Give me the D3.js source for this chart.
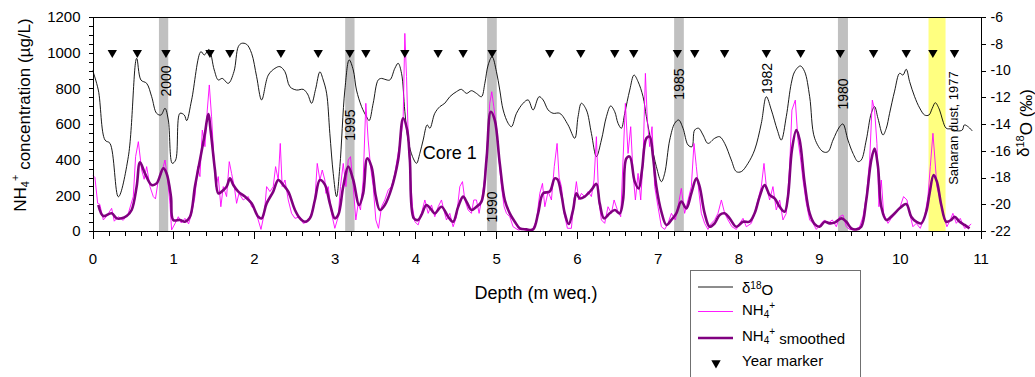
<!DOCTYPE html>
<html><head><meta charset="utf-8">
<script src="https://cdn.jsdelivr.net/npm/d3@7"></script>
<style>
body{margin:0;background:#fff}
svg{display:block}
text{font-family:"Liberation Sans",Arial,sans-serif;fill:#000}
</style>
</head><body>
<svg id="chart" width="1035" height="377"></svg>
<script>
// ---------------- DATA ----------------
const d18oDepth = [0,0.072,0.155,0.217,0.32,0.444,0.547,0.6,0.671,0.733,0.794,0.848,0.898,0.939,0.988,1.03,1.083,1.137,1.166,1.228,1.343,1.385,1.442,1.508,1.558,1.607,1.682,1.752,1.806,1.847,1.909,1.971,2.033,2.095,2.178,2.26,2.321,2.384,2.445,2.528,2.61,2.664,2.714,2.763,2.817,2.858,2.9,2.94,2.982,3.023,3.064,3.126,3.18,3.23,3.27,3.333,3.394,3.427,3.477,3.539,3.58,3.621,3.683,3.745,3.786,3.828,3.869,3.91,3.964,4.014,4.055,4.096,4.146,4.179,4.24,4.303,4.364,4.426,4.509,4.57,4.633,4.694,4.756,4.818,4.86,4.901,4.95,5.004,5.045,5.087,5.149,5.19,5.252,5.334,5.396,5.458,5.532,5.582,5.644,5.706,5.788,5.891,5.974,6.015,6.056,6.118,6.18,6.242,6.304,6.366,6.419,6.469,6.51,6.551,6.593,6.655,6.708,6.758,6.82,6.861,6.923,6.985,7.047,7.088,7.15,7.212,7.261,7.315,7.377,7.426,7.459,7.509,7.563,7.624,7.707,7.769,7.831,7.913,7.975,8.037,8.12,8.202,8.285,8.347,8.409,8.483,8.532,8.594,8.656,8.698,8.768,8.822,8.884,8.946,9.049,9.111,9.173,9.255,9.296,9.358,9.42,9.482,9.523,9.585,9.647,9.688,9.73,9.792,9.833,9.874,9.936,9.998,10.039,10.08,10.122,10.184,10.246,10.308,10.361,10.402,10.44,10.493,10.53,10.576,10.64,10.715,10.774,10.8,10.85,10.898];
const d18oValue = [-9.96,-11.46,-15.2,-15.45,-19.44,-16.44,-9.09,-10.71,-10.96,-11.96,-13.2,-13.33,-12.83,-13.7,-16.94,-16.69,-13.2,-13.33,-13.75,-12.2,-8.59,-8.84,-8.42,-9.96,-10.71,-10.59,-10.96,-10.09,-8.22,-7.97,-8.04,-8.72,-10.46,-12.2,-10.34,-9.84,-9.71,-10.09,-11.21,-11.46,-11.41,-11.76,-12.45,-11.41,-10.1,-10.71,-11.7,-14.7,-17.69,-19.43,-17.19,-11.46,-9.21,-9.96,-11.46,-12.7,-13.45,-13.75,-12.45,-10.71,-10.59,-10.66,-10.71,-9.84,-9.46,-10.21,-13.05,-15.2,-16.44,-16.94,-16.19,-15.2,-14.07,-14.32,-13.2,-12.7,-12.45,-11.96,-11.58,-11.41,-11.71,-11.51,-11.71,-11.96,-10.96,-9.59,-8.97,-10.09,-11.46,-12.95,-13.95,-14.2,-13.2,-12.45,-12.2,-12.95,-11.96,-12.2,-12.95,-13.2,-13.2,-14.07,-15.07,-13.45,-12.45,-12.95,-14.7,-16.44,-15.2,-13.45,-12.65,-13.08,-13.95,-14.32,-13.2,-11.46,-10.34,-10.83,-11.96,-13.45,-15.45,-17.19,-18.31,-17.69,-15.2,-13.95,-13.7,-14.32,-15.57,-15.7,-14.45,-14.32,-14.82,-15.45,-15.07,-14.95,-15.45,-16.69,-17.56,-17.56,-16.94,-15.94,-13.95,-11.96,-12.95,-14.45,-15.2,-13.45,-10.96,-10.09,-9.66,-10.09,-11.96,-15.07,-16.07,-16.07,-15.2,-14.2,-14.0,-15.2,-16.19,-16.81,-16.69,-15.2,-13.2,-12.7,-13.58,-14.82,-14.32,-13.2,-11.54,-10.21,-10.34,-9.91,-10.83,-11.96,-12.8,-13.33,-13.33,-12.83,-12.41,-12.95,-13.7,-14.32,-14.37,-14.52,-14.45,-14.07,-14.22,-14.52];

const nh4Depth = [0,0.03,0.064,0.09,0.134,0.17,0.237,0.27,0.32,0.38,0.444,0.505,0.534,0.568,0.609,0.64,0.671,0.712,0.753,0.78,0.815,0.856,0.898,0.931,0.96,0.98,1.02,1.063,1.1,1.145,1.19,1.228,1.269,1.302,1.331,1.36,1.393,1.422,1.447,1.475,1.5,1.529,1.558,1.59,1.62,1.661,1.694,1.723,1.756,1.785,1.814,1.867,1.93,1.971,2.012,2.053,2.087,2.128,2.157,2.198,2.239,2.268,2.301,2.326,2.35,2.384,2.425,2.466,2.508,2.57,2.61,2.66,2.714,2.755,2.784,2.817,2.846,2.878,2.891,2.92,2.961,3.002,3.044,3.072,3.106,3.139,3.168,3.196,3.23,3.262,3.291,3.32,3.353,3.386,3.415,3.444,3.477,3.51,3.543,3.58,3.621,3.663,3.704,3.745,3.786,3.815,3.848,3.869,3.89,3.91,3.931,3.964,3.993,4.034,4.075,4.117,4.158,4.199,4.24,4.282,4.323,4.352,4.385,4.426,4.467,4.509,4.55,4.583,4.612,4.653,4.694,4.723,4.756,4.789,4.826,4.86,4.893,4.921,4.946,4.971,5.004,5.033,5.066,5.099,5.128,5.169,5.21,5.272,5.334,5.396,5.458,5.5,5.541,5.574,5.603,5.644,5.685,5.72,5.755,5.78,5.809,5.842,5.883,5.932,5.965,5.994,6.023,6.056,6.097,6.139,6.18,6.213,6.242,6.271,6.304,6.345,6.386,6.428,6.461,6.502,6.543,6.572,6.601,6.634,6.667,6.696,6.725,6.758,6.791,6.82,6.849,6.873,6.902,6.931,6.964,7.005,7.047,7.088,7.129,7.171,7.22,7.253,7.294,7.335,7.377,7.418,7.451,7.48,7.509,7.542,7.583,7.624,7.666,7.707,7.748,7.79,7.831,7.872,7.921,7.975,8.017,8.058,8.099,8.161,8.202,8.243,8.285,8.318,8.347,8.388,8.429,8.47,8.512,8.553,8.594,8.636,8.664,8.706,8.739,8.768,8.801,8.842,8.884,8.925,8.966,9.028,9.069,9.111,9.164,9.214,9.255,9.296,9.338,9.379,9.441,9.503,9.544,9.585,9.627,9.66,9.688,9.717,9.742,9.771,9.8,9.854,9.895,9.948,9.998,10.047,10.089,10.122,10.163,10.204,10.254,10.308,10.349,10.378,10.411,10.436,10.46,10.502,10.543,10.584,10.625,10.658,10.7,10.749,10.803,10.844,10.885];
const nh4Value = [314,300,155,150,62,80,127,55,80,60,99,193,417,501,342,290,361,249,193,180,286,323,398,286,150,6,40,80,45,71,40,99,193,361,305,566,473,678,819,641,435,249,305,136,249,193,389,323,249,155,211,174,193,136,118,62,9,99,249,221,249,361,286,491,249,286,174,99,71,80,43,50,99,174,379,286,342,286,211,249,99,15,80,249,379,249,398,417,249,62,155,118,286,716,510,361,249,62,15,136,174,230,249,323,435,510,622,1108,865,548,361,136,52,34,99,174,99,146,80,136,174,118,62,99,24,80,249,277,174,118,99,174,174,99,193,305,510,716,781,697,585,417,249,136,99,80,24,6,9,2,13,62,211,267,136,221,174,361,491,300,249,99,15,15,174,277,174,211,193,221,193,286,529,174,62,43,136,99,174,118,80,398,716,435,585,323,174,323,174,398,884,622,473,585,249,136,24,9,43,99,62,136,239,99,174,249,491,361,230,99,43,9,43,62,99,174,99,62,24,9,43,71,24,43,99,174,249,379,249,174,249,118,174,62,99,361,678,734,510,417,286,155,62,43,9,43,62,43,62,24,80,90,24,9,6,24,80,193,398,734,678,491,136,286,99,43,71,99,127,193,174,99,24,43,15,80,193,361,548,398,249,174,80,24,62,99,43,71,15,24,39];

const nh4SmoothDepth = [0.072,0.134,0.237,0.3,0.361,0.423,0.485,0.547,0.588,0.65,0.733,0.794,0.877,0.918,0.972,1.0,1.083,1.145,1.207,1.269,1.331,1.393,1.434,1.467,1.517,1.558,1.6,1.661,1.703,1.744,1.806,1.888,1.971,2.053,2.095,2.157,2.239,2.301,2.363,2.425,2.508,2.57,2.632,2.693,2.755,2.817,2.879,2.94,3.002,3.044,3.106,3.168,3.23,3.303,3.353,3.403,3.456,3.51,3.56,3.621,3.704,3.786,3.848,3.898,3.931,3.98,4.034,4.075,4.137,4.199,4.24,4.323,4.406,4.467,4.53,4.591,4.633,4.694,4.756,4.818,4.88,4.934,4.983,5.045,5.107,5.169,5.231,5.293,5.375,5.458,5.52,5.582,5.664,5.726,5.76,5.81,5.85,5.899,5.953,5.994,6.036,6.097,6.18,6.242,6.283,6.337,6.407,6.469,6.531,6.572,6.613,6.655,6.717,6.766,6.807,6.861,6.902,6.943,6.985,7.047,7.109,7.171,7.232,7.294,7.356,7.418,7.48,7.521,7.583,7.645,7.707,7.769,7.831,7.893,7.975,8.058,8.14,8.202,8.264,8.326,8.388,8.45,8.512,8.574,8.615,8.664,8.719,8.76,8.822,8.884,8.946,9.007,9.069,9.131,9.193,9.276,9.338,9.4,9.461,9.523,9.585,9.647,9.688,9.73,9.771,9.833,9.916,9.998,10.08,10.142,10.204,10.266,10.328,10.369,10.419,10.46,10.514,10.576,10.638,10.679,10.741,10.803,10.864];
const nh4SmoothValue = [146,84,99,71,71,84,118,249,385,323,258,267,351,323,193,62,62,52,80,249,398,548,656,548,342,211,221,249,295,258,221,193,155,80,71,155,221,286,258,221,118,71,52,71,174,286,260,155,71,90,249,361,286,146,211,407,361,193,118,146,239,398,632,566,398,71,62,90,146,118,99,136,80,52,136,193,165,118,136,165,398,669,622,379,174,99,52,15,9,9,99,211,221,295,290,200,99,39,118,211,183,193,230,264,155,71,99,118,99,174,407,417,277,239,342,520,529,417,249,108,34,62,99,165,127,211,295,249,99,24,43,90,99,71,24,52,52,99,193,258,202,183,136,108,193,454,566,510,267,99,39,24,52,43,47,71,52,15,9,24,174,398,463,361,136,62,90,127,151,80,52,43,108,211,314,277,146,52,62,80,52,34,15];

const yearMarkerDepth = [0.245,0.555,0.91,1.455,1.702,2.334,2.796,3.188,3.386,3.869,4.281,4.591,4.95,5.665,6.048,6.469,6.704,7.245,7.46,7.83,8.347,8.772,9.263,9.675,10.08,10.41,10.678];
const yearMarkerLevel = 1000;

const bandStart = [0.823,3.13,4.888,7.205,9.234];
const bandEnd   = [0.938,3.246,5.008,7.325,9.358];
const saharanBand = [10.356,10.567];

const yearLabels      = ["2000","1995","1990","1985","1982","1980","Saharan dust, 1977"];
const yearLabelDepth  = [0.904,3.188,4.946,7.268,8.357,9.292,10.666];
const yearLabelLevel  = [841,594,135,824,855,768,577];

const xTicks = [0,1,2,3,4,5,6,7,8,9,10,11];
const leftTicks = [0,200,400,600,800,1000,1200];
const rightTicks = [-22,-20,-18,-16,-14,-12,-10,-8,-6];

// ---------------- CHART ----------------
const svg = d3.select("#chart");
const L = 92.5, R = 980.5, T = 17, B = 231;
const x  = d3.scaleLinear().domain([0,11]).range([L,R]);
const yL = d3.scaleLinear().domain([0,1200]).range([B,T]);
const yR = d3.scaleLinear().domain([-22,-6]).range([B,T]);

svg.append("defs").append("clipPath").attr("id","plot")
  .append("rect").attr("x",L).attr("y",T).attr("width",R-L).attr("height",B-T+1);

// bands
svg.append("g").selectAll("rect").data(bandStart).join("rect")
  .attr("x",(d)=>x(d)).attr("y",T)
  .attr("width",(d,i)=>x(bandEnd[i])-x(d)).attr("height",B-T)
  .attr("fill","#c0c0c0");
svg.append("rect").attr("x",x(saharanBand[0])).attr("y",T)
  .attr("width",x(saharanBand[1])-x(saharanBand[0])).attr("height",B-T)
  .attr("fill","#ffff80");

// year labels (rotated)
svg.append("g").selectAll("text").data(yearLabels).join("text")
  .attr("transform",(d,i)=>`translate(${x(yearLabelDepth[i])},${yL(yearLabelLevel[i])}) rotate(-90)`)
  .attr("text-anchor","middle").attr("dy","0.36em")
  .style("font-size",(d,i)=> i===6 ? "13px" : "14px")
  .text(d=>d);

// Core 1 label
svg.append("text").attr("x",x(4.09)).attr("y",yL(400)+ -0.5)
  .style("font-size","18px").text("Core 1");

const gPlot = svg.append("g").attr("clip-path","url(#plot)");

// d18O line
gPlot.append("path")
  .datum(d3.zip(d18oDepth,d18oValue))
  .attr("fill","none").attr("stroke","#000").attr("stroke-width",0.9)
  .attr("d",d3.line().x(d=>x(d[0])).y(d=>yR(d[1])).curve(d3.curveCatmullRom.alpha(0.5)));

// NH4 raw
gPlot.append("path")
  .datum(d3.zip(nh4Depth,nh4Value))
  .attr("fill","none").attr("stroke","#ff00ff").attr("stroke-width",0.9)
  .attr("d",d3.line().x(d=>x(d[0])).y(d=>yL(d[1])));

// NH4 smoothed
gPlot.append("path")
  .datum(d3.zip(nh4SmoothDepth,nh4SmoothValue))
  .attr("fill","none").attr("stroke","#800080").attr("stroke-width",2.6)
  .attr("stroke-linejoin","round")
  .attr("d",d3.line().x(d=>x(d[0])).y(d=>yL(d[1])).curve(d3.curveCatmullRom.alpha(0.5)));

// year markers
const tri = d3.symbol().type(d3.symbolTriangle).size(38);
svg.append("g").selectAll("path").data(yearMarkerDepth).join("path")
  .attr("transform",d=>`translate(${x(d)},${yL(yearMarkerLevel)}) rotate(180)`)
  .attr("d",tri).attr("fill","#000");

// axes
const axisStyle = g => { g.selectAll("path,line").attr("stroke","#000").attr("shape-rendering","crispEdges"); };

svg.append("g").attr("transform",`translate(0,${B})`)
  .call(d3.axisBottom(x).tickValues(d3.range(0,56).map(i=>i/5)).tickSize(5).tickSizeOuter(0).tickFormat(""))
  .call(axisStyle);
svg.append("g").attr("transform",`translate(0,${B})`)
  .call(d3.axisBottom(x).tickValues(xTicks).tickSize(8).tickSizeOuter(0).tickPadding(14).tickFormat(d3.format("d")))
  .call(axisStyle)
  .call(g=>g.selectAll("text").style("font-size","15px"));

svg.append("g").attr("transform",`translate(${L},0)`)
  .call(d3.axisLeft(yL).tickValues(d3.range(0,1201,50)).tickSize(4).tickSizeOuter(0).tickFormat(""))
  .call(axisStyle);
svg.append("g").attr("transform",`translate(${L},0)`)
  .call(d3.axisLeft(yL).tickValues(leftTicks).tickSize(4).tickSizeOuter(0).tickPadding(8).tickFormat(d3.format("d")))
  .call(axisStyle)
  .call(g=>g.selectAll("text").style("font-size","15px"));

svg.append("g").attr("transform",`translate(${R},0)`)
  .call(d3.axisRight(yR).tickValues(rightTicks).tickSize(5).tickSizeOuter(0).tickPadding(5).tickFormat(d=>String(d)))
  .call(axisStyle)
  .call(g=>g.selectAll("text").style("font-size","14px"));

// top frame
svg.append("line").attr("x1",L).attr("x2",R).attr("y1",T).attr("y2",T)
  .attr("stroke","#000").attr("shape-rendering","crispEdges");

// axis titles
svg.append("text").attr("x",536).attr("y",299).attr("text-anchor","middle")
  .style("font-size","18px").text("Depth (m weq.)");

const yt = svg.append("text").attr("transform","translate(26,115) rotate(-90)")
  .attr("text-anchor","middle").style("font-size","17px");
yt.append("tspan").text("NH");
yt.append("tspan").attr("dy","0.3em").style("font-size","11px").text("4");
yt.append("tspan").attr("dy","-0.95em").style("font-size","11px").text("+");
yt.append("tspan").attr("dy","0.65em").text(" concentration (\u00b5g/L)");

const rt = svg.append("text").attr("transform","translate(1029,123) rotate(-90)")
  .attr("text-anchor","middle").style("font-size","17px");
rt.append("tspan").text("\u03b4");
rt.append("tspan").attr("dy","-0.45em").style("font-size","11px").text("18");
rt.append("tspan").attr("dy","0.45em").text("O (\u2030)");

// legend
const lg = svg.append("g");
lg.append("rect").attr("x",690.5).attr("y",270.5).attr("width",170).attr("height",130)
  .attr("fill","#fff").attr("stroke","#707070");
const lx1 = 698, lx2 = 733, tx = 742;
lg.append("line").attr("x1",lx1).attr("x2",lx2).attr("y1",287).attr("y2",287).attr("stroke","#000").attr("stroke-width",0.9);
lg.append("line").attr("x1",lx1).attr("x2",lx2).attr("y1",311.5).attr("y2",311.5).attr("stroke","#ff00ff").attr("stroke-width",0.9);
lg.append("line").attr("x1",lx1).attr("x2",lx2).attr("y1",338).attr("y2",338).attr("stroke","#800080").attr("stroke-width",2.6);
lg.append("path").attr("transform","translate(716,363) rotate(180)").attr("d",tri).attr("fill","#000");

const t1 = lg.append("text").attr("x",tx).attr("y",293).style("font-size","15px");
t1.append("tspan").text("\u03b4");
t1.append("tspan").attr("dy","-0.45em").style("font-size","10px").text("18");
t1.append("tspan").attr("dy","0.45em").text("O");

function nh4(sel, extra){
  sel.append("tspan").text("NH");
  sel.append("tspan").attr("dy","0.3em").style("font-size","10px").text("4");
  sel.append("tspan").attr("dy","-0.95em").style("font-size","10px").text("+");
  if (extra) sel.append("tspan").attr("dy","0.65em").text(extra);
}
nh4(lg.append("text").attr("x",tx).attr("y",315).style("font-size","15px"), null);
nh4(lg.append("text").attr("x",tx).attr("y",341).style("font-size","15px"), " smoothed");
lg.append("text").attr("x",tx).attr("y",366).style("font-size","15px").text("Year marker");
</script>
</body></html>
